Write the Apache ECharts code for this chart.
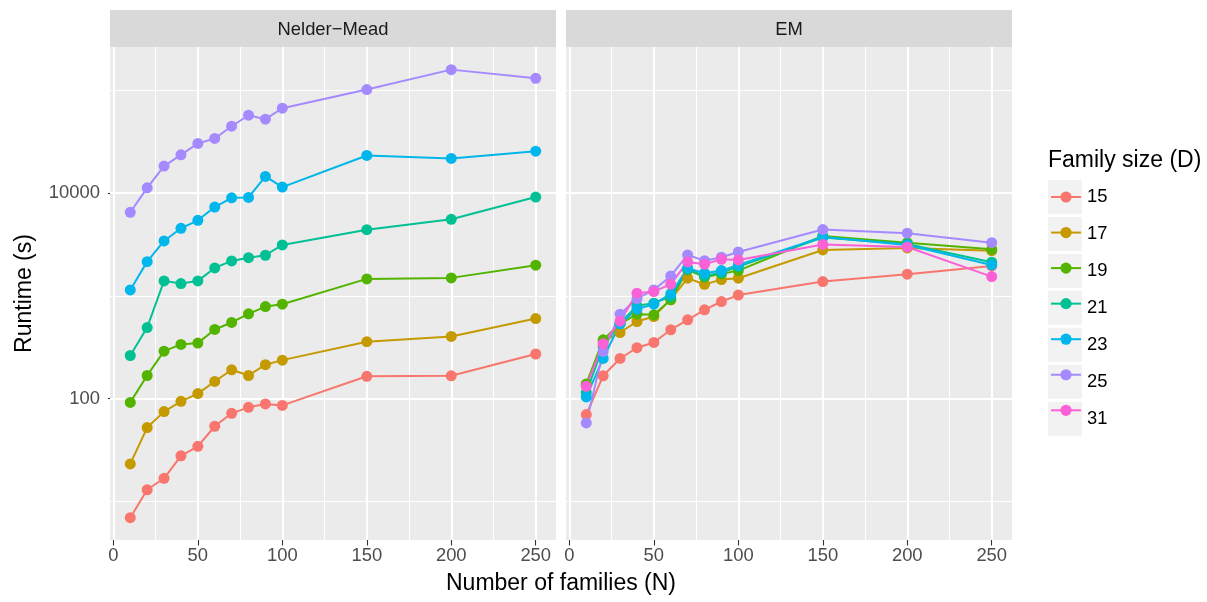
<!DOCTYPE html>
<html>
<head>
<meta charset="utf-8">
<script src="https://cdn.jsdelivr.net/npm/echarts@6/dist/echarts.min.js"></script>
<style>
html,body{margin:0;padding:0;background:#ffffff;}
#chart{width:1207px;height:602px;}
</style>
</head>
<body>
<div id="chart"></div>
<script>
// ---------------- data ----------------
const familiesN = [10, 20, 30, 40, 50, 60, 70, 80, 90, 100, 150, 200, 250];
const familySizes = ['15', '17', '19', '21', '23', '25', '31'];
const facetNames = ['Nelder\u2212Mead', 'EM'];

// Nelder-Mead runtimes (s)
const nelderMead15 = [6.95, 13.0, 16.8, 27.8, 34.4, 53.9, 72, 82.3, 88.8, 86, 165, 167, 272];
const nelderMead17 = [23.2, 52.3, 74.8, 94.2, 112, 147, 191, 168, 214, 237, 358, 403, 602];
const nelderMead19 = [92, 168, 290, 337, 347, 471, 551, 669, 787, 830, 1462, 1496, 1986];
const nelderMead21 = [263, 492, 1399, 1316, 1399, 1870, 2188, 2354, 2484, 3127, 4403, 5555, 9143];
const nelderMead23 = [1143, 2153, 3420, 4540, 5430, 7310, 8997, 9080, 14530, 11430, 23230, 21730, 25570];
const nelderMead25 = [6500, 11250, 18300, 23550, 30400, 33970, 44700, 57200, 52300, 66900, 101600, 158800, 130800];

// EM runtimes (s)
const em15 = [70, 167, 246, 313, 352, 468, 585, 731, 881, 1018, 1377, 1625, 1955];
const em17 = [136, 360, 440, 563, 630, 925, 1485, 1294, 1439, 1485, 2797, 2924, 2754];
const em19 = [139, 374, 535, 664, 654, 915, 1788, 1520, 1636, 1761, 3825, 3292, 2840];
const em21 = [115, 322, 543, 800, 849, 985, 1816, 1564, 1684, 1925, 3698, 3199, 2125];
const em23 = [104, 246, 535, 743, 830, 1046, 1858, 1661, 1761, 2000, 3740, 3127, 2000];
const em25 = [58, 288, 664, 942, 1143, 1564, 2500, 2201, 2375, 2675, 4420, 4070, 3292];
const em31 = [132, 342, 568, 1062, 1101, 1299, 2138, 2032, 2271, 2237, 3162, 2991, 1540];

// tick / grid values
const xTicks = [0, 50, 100, 150, 200, 250];
const xMinorGrid = [25, 75, 125, 175, 225];
const yTicks = [100, 10000];
const yMinorGrid = [10, 1000, 100000];

// ---------------- styles / layout ----------------
const palette = ['#F8766D', '#C49A00', '#53B400', '#00C094', '#00B6EB', '#A58AFF', '#FB61D7'];
const FONT = '"Liberation Sans", Arial, Helvetica, sans-serif';
const GRID_TOP = 47, GRID_H = 493, GRID_W = 446;
const GRID_LEFT = [110, 566];
const X_MIN = -2, X_MAX = 262;
const Y_MIN = Math.pow(10, 0.625), Y_MAX = Math.pow(10, 5.421);

const panelData = [
  { '15': nelderMead15, '17': nelderMead17, '19': nelderMead19, '21': nelderMead21, '23': nelderMead23, '25': nelderMead25 },
  { '15': em15, '17': em17, '19': em19, '21': em21, '23': em23, '25': em25, '31': em31 }
];

const grids = GRID_LEFT.map(l => ({
  left: l, top: GRID_TOP, width: GRID_W, height: GRID_H,
  show: true, backgroundColor: '#EBEBEB', borderWidth: 0,
  containLabel: false, outerBoundsMode: 'none'
}));

const xAxes = [0, 1].map(i => ({
  type: 'value', gridIndex: i, min: X_MIN, max: X_MAX,
  axisLine: { show: false },
  axisTick: { show: true, length: 5.5, lineStyle: { color: '#333333', width: 1.1 }, customValues: xTicks },
  axisLabel: { show: true, customValues: xTicks, fontSize: 18.4, color: '#4D4D4D', fontFamily: FONT, margin: 7,
               formatter: v => String(Math.round(v)) },
  splitLine: { show: false }, minorSplitLine: { show: false }
}));

const yAxes = [0, 1].map(i => ({
  type: 'log', logBase: 10, gridIndex: i, min: Y_MIN, max: Y_MAX,
  axisLine: { show: false },
  axisTick: { show: i === 0, length: 5.5, lineStyle: { color: '#333333', width: 1.1 }, customValues: yTicks },
  axisLabel: { show: i === 0, customValues: yTicks, fontSize: 18.4, color: '#4D4D4D', fontFamily: FONT, margin: 10,
               formatter: v => String(Math.round(v)) },
  splitLine: { show: false },
  name: i === 0 ? 'Runtime (s)' : '',
  nameLocation: 'middle', nameGap: 74, nameRotate: 90,
  nameTextStyle: { fontSize: 23, color: '#000000', fontFamily: FONT }
}));

const series = [];
// background grid lines (drawn through the axes' scales)
[0, 1].forEach(f => {
  const major = { color: '#FFFFFF', width: 2.1, type: 'solid' };
  const minor = { color: '#FFFFFF', width: 1.05, type: 'solid' };
  series.push({
    type: 'line', name: '_grid' + f, xAxisIndex: f, yAxisIndex: f, data: [], silent: true, z: 1,
    markLine: {
      silent: true, z: 1, animation: false, symbol: ['none', 'none'], label: { show: false },
      emphasis: { disabled: true },
      data: [
        ...xMinorGrid.map(v => ({ xAxis: v, lineStyle: minor })),
        ...yMinorGrid.map(v => ({ yAxis: v, lineStyle: minor })),
        ...xTicks.map(v => ({ xAxis: v, lineStyle: major })),
        ...yTicks.map(v => ({ yAxis: v, lineStyle: major }))
      ]
    }
  });
});
// lines
[0, 1].forEach(f => {
  familySizes.forEach((s, k) => {
    const vals = panelData[f][s];
    if (!vals) return;
    series.push({
      type: 'line', name: s, xAxisIndex: f, yAxisIndex: f, z: 2,
      data: familiesN.map((n, j) => [n, vals[j]]),
      symbol: 'circle', showSymbol: false, symbolSize: 11,
      lineStyle: { color: palette[k], width: 2 },
      itemStyle: { color: palette[k] },
      emphasis: { disabled: true }, animation: false
    });
  });
});
// points
[0, 1].forEach(f => {
  familySizes.forEach((s, k) => {
    const vals = panelData[f][s];
    if (!vals) return;
    series.push({
      type: 'scatter', name: s, xAxisIndex: f, yAxisIndex: f, z: 3,
      data: familiesN.map((n, j) => [n, vals[j]]),
      symbol: 'circle', symbolSize: 11,
      itemStyle: { color: palette[k], opacity: 1 },
      emphasis: { disabled: true }, animation: false
    });
  });
});

const graphic = [];
facetNames.forEach((name, f) => {
  graphic.push({ type: 'rect', shape: { x: GRID_LEFT[f], y: 10, width: GRID_W, height: GRID_TOP - 10 },
                 style: { fill: '#D9D9D9' }, silent: true });
  graphic.push({ type: 'text', x: GRID_LEFT[f] + GRID_W / 2, y: 29.5,
                 style: { text: name, fill: '#1A1A1A', font: '18.4px ' + FONT, align: 'center', verticalAlign: 'middle' }, silent: true });
});
graphic.push({ type: 'text', x: (GRID_LEFT[0] + GRID_LEFT[1] + GRID_W) / 2, y: 584,
               style: { text: 'Number of families (N)', fill: '#000000', font: '23px ' + FONT, align: 'center', verticalAlign: 'middle' }, silent: true });
graphic.push({ type: 'text', x: 1048, y: 161,
               style: { text: 'Family size (D)', fill: '#000000', font: '23px ' + FONT, align: 'left', verticalAlign: 'middle' }, silent: true });

const option = {
  backgroundColor: '#FFFFFF',
  animation: false,
  grid: grids,
  xAxis: xAxes,
  yAxis: yAxes,
  legend: [
    {
      data: familySizes, orient: 'vertical', left: 1048, top: 180, padding: 0,
      itemWidth: 34, itemHeight: 34, itemGap: 2.95, icon: 'rect', selectedMode: false,
      itemStyle: { color: '#F2F2F2', borderWidth: 0, borderColor: '#F2F2F2' },
      textStyle: { fontSize: 18.4, color: '#000000', fontFamily: FONT }
    },
    {
      data: familySizes, orient: 'vertical', left: 1050, top: 190, padding: 0,
      itemWidth: 30, itemHeight: 14, itemGap: 22.95, selectedMode: false,
      formatter: () => '', textStyle: { fontSize: 1 }
    }
  ],
  graphic: graphic,
  series: series
};

const chart = echarts.init(document.getElementById('chart'), null, { renderer: 'canvas' });
chart.setOption(option);
</script>
</body>
</html>
